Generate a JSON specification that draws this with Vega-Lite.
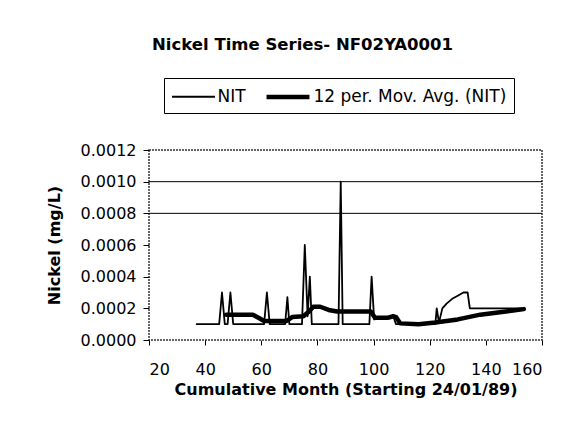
{
  "$schema": "https://vega.github.io/schema/vega-lite/v6.json",
  "width": 393,
  "height": 190,
  "autosize": {"type": "none"},
  "padding": {"left": 149, "top": 150, "right": 46, "bottom": 107},
  "background": "white",
  "title": {
    "text": "Nickel Time Series- NF02YA0001",
    "font": "DejaVu Sans",
    "fontSize": 16.5,
    "fontWeight": "bold",
    "color": "black",
    "anchor": "middle",
    "dx": -43,
    "offset": 24
  },
  "datasets": {
    "series": [
      {"series": "NIT", "i": 1, "month": 37, "nickel": 0.0001},
      {"series": "NIT", "i": 2, "month": 45, "nickel": 0.0001},
      {"series": "NIT", "i": 3, "month": 46, "nickel": 0.0003},
      {"series": "NIT", "i": 4, "month": 47, "nickel": 0.0001},
      {"series": "NIT", "i": 5, "month": 48, "nickel": 0.0001},
      {"series": "NIT", "i": 6, "month": 49, "nickel": 0.0003},
      {"series": "NIT", "i": 7, "month": 50, "nickel": 0.0001},
      {"series": "NIT", "i": 8, "month": 61, "nickel": 0.0001},
      {"series": "NIT", "i": 9, "month": 62, "nickel": 0.0003},
      {"series": "NIT", "i": 10, "month": 63, "nickel": 0.0001},
      {"series": "NIT", "i": 11, "month": 68.5, "nickel": 0.0001},
      {"series": "NIT", "i": 12, "month": 69.3, "nickel": 0.00027},
      {"series": "NIT", "i": 13, "month": 70, "nickel": 0.0001},
      {"series": "NIT", "i": 14, "month": 74.5, "nickel": 0.0001},
      {"series": "NIT", "i": 15, "month": 75.5, "nickel": 0.0006},
      {"series": "NIT", "i": 16, "month": 76.5, "nickel": 0.00015},
      {"series": "NIT", "i": 17, "month": 77.3, "nickel": 0.0004},
      {"series": "NIT", "i": 18, "month": 78, "nickel": 0.0001},
      {"series": "NIT", "i": 19, "month": 87.5, "nickel": 0.0001},
      {"series": "NIT", "i": 20, "month": 88.3, "nickel": 0.001},
      {"series": "NIT", "i": 21, "month": 89, "nickel": 0.0001},
      {"series": "NIT", "i": 22, "month": 98.5, "nickel": 0.0001},
      {"series": "NIT", "i": 23, "month": 99.3, "nickel": 0.0004},
      {"series": "NIT", "i": 24, "month": 100.2, "nickel": 0.00013},
      {"series": "NIT", "i": 25, "month": 104, "nickel": 0.00014},
      {"series": "NIT", "i": 26, "month": 107, "nickel": 0.00015},
      {"series": "NIT", "i": 27, "month": 108, "nickel": 0.0001},
      {"series": "NIT", "i": 28, "month": 122, "nickel": 0.0001},
      {"series": "NIT", "i": 29, "month": 122.5, "nickel": 0.0002},
      {"series": "NIT", "i": 30, "month": 123.3, "nickel": 0.00011},
      {"series": "NIT", "i": 31, "month": 124.5, "nickel": 0.0002},
      {"series": "NIT", "i": 32, "month": 126, "nickel": 0.00023},
      {"series": "NIT", "i": 33, "month": 128, "nickel": 0.00026},
      {"series": "NIT", "i": 34, "month": 130, "nickel": 0.00028},
      {"series": "NIT", "i": 35, "month": 132, "nickel": 0.0003},
      {"series": "NIT", "i": 36, "month": 133.5, "nickel": 0.0003},
      {"series": "NIT", "i": 37, "month": 134.3, "nickel": 0.0002},
      {"series": "NIT", "i": 38, "month": 153.5, "nickel": 0.0002},
      {"series": "12 per. Mov. Avg. (NIT)", "i": 1, "month": 47.5, "nickel": 0.00016},
      {"series": "12 per. Mov. Avg. (NIT)", "i": 2, "month": 57, "nickel": 0.00016},
      {"series": "12 per. Mov. Avg. (NIT)", "i": 3, "month": 59, "nickel": 0.00014},
      {"series": "12 per. Mov. Avg. (NIT)", "i": 4, "month": 61, "nickel": 0.00012},
      {"series": "12 per. Mov. Avg. (NIT)", "i": 5, "month": 69, "nickel": 0.00012},
      {"series": "12 per. Mov. Avg. (NIT)", "i": 6, "month": 71, "nickel": 0.000145},
      {"series": "12 per. Mov. Avg. (NIT)", "i": 7, "month": 75, "nickel": 0.00015},
      {"series": "12 per. Mov. Avg. (NIT)", "i": 8, "month": 77, "nickel": 0.00018},
      {"series": "12 per. Mov. Avg. (NIT)", "i": 9, "month": 78.5, "nickel": 0.00021},
      {"series": "12 per. Mov. Avg. (NIT)", "i": 10, "month": 81, "nickel": 0.00021},
      {"series": "12 per. Mov. Avg. (NIT)", "i": 11, "month": 84, "nickel": 0.00019},
      {"series": "12 per. Mov. Avg. (NIT)", "i": 12, "month": 87, "nickel": 0.00018},
      {"series": "12 per. Mov. Avg. (NIT)", "i": 13, "month": 99, "nickel": 0.00018},
      {"series": "12 per. Mov. Avg. (NIT)", "i": 14, "month": 100.5, "nickel": 0.00014},
      {"series": "12 per. Mov. Avg. (NIT)", "i": 15, "month": 105, "nickel": 0.00014},
      {"series": "12 per. Mov. Avg. (NIT)", "i": 16, "month": 107, "nickel": 0.00015},
      {"series": "12 per. Mov. Avg. (NIT)", "i": 17, "month": 108, "nickel": 0.000145},
      {"series": "12 per. Mov. Avg. (NIT)", "i": 18, "month": 109.5, "nickel": 0.000105},
      {"series": "12 per. Mov. Avg. (NIT)", "i": 19, "month": 116, "nickel": 0.0001},
      {"series": "12 per. Mov. Avg. (NIT)", "i": 20, "month": 122, "nickel": 0.00011},
      {"series": "12 per. Mov. Avg. (NIT)", "i": 21, "month": 130, "nickel": 0.00013},
      {"series": "12 per. Mov. Avg. (NIT)", "i": 22, "month": 138, "nickel": 0.00016},
      {"series": "12 per. Mov. Avg. (NIT)", "i": 23, "month": 145, "nickel": 0.000175},
      {"series": "12 per. Mov. Avg. (NIT)", "i": 24, "month": 153.5, "nickel": 0.000195}
    ],
    "limits": [
      {"nickel": 0.0008},
      {"nickel": 0.001}
    ]
  },
  "encoding": {
    "y": {
      "field": "nickel",
      "type": "quantitative",
      "scale": {"domain": [0, 0.0012], "nice": false},
      "axis": {
        "title": "Nickel (mg/L)",
        "values": [0, 0.0002, 0.0004, 0.0006, 0.0008, 0.001, 0.0012],
        "format": ".4f",
        "tickSize": 6,
        "labelPadding": 7,
        "titlePadding": 18,
        "labelOverlap": false
      }
    }
  },
  "layer": [
    {
      "data": {"name": "limits"},
      "mark": {"type": "rule", "color": "black", "strokeWidth": 1},
      "encoding": {}
    },
    {
      "data": {"name": "series"},
      "mark": {"type": "line", "color": "black", "strokeJoin": "round", "strokeCap": "round"},
      "encoding": {
        "x": {
          "field": "month",
          "type": "quantitative",
          "scale": {"domain": [20, 160], "nice": false, "zero": false},
          "axis": {
            "title": "Cumulative Month (Starting 24/01/89)",
            "values": [20, 40, 60, 80, 100, 120, 140, 160],
            "format": "d",
            "tickSize": 5,
            "labelPadding": 16,
            "titlePadding": 4,
            "labelOverlap": false
          }
        },
        "detail": {"field": "series", "type": "nominal"},
        "order": {"field": "i", "type": "quantitative"},
        "strokeWidth": {
          "field": "series",
          "type": "nominal",
          "scale": {"domain": ["NIT", "12 per. Mov. Avg. (NIT)"], "range": [1.8, 4.5]},
          "legend": {
            "title": null,
            "orient": "none",
            "legendX": 15,
            "legendY": -72,
            "direction": "horizontal",
            "symbolType": "M-2.26,0H2.26",
            "symbolSize": 361,
            "symbolOffset": 12,
            "symbolStrokeColor": "black",
            "labelFont": "DejaVu Sans",
            "labelFontSize": 17,
            "labelColor": "black",
            "labelOffset": 13.5,
            "labelLimit": 400,
            "columnPadding": 11,
            "strokeColor": "black",
            "fillColor": "white",
            "padding": 7
          }
        }
      }
    }
  ],
  "config": {
    "view": {"stroke": "#333", "strokeDash": [2, 1], "strokeWidth": 1.5},
    "axis": {
      "grid": false,
      "domain": false,
      "tickColor": "black",
      "labelColor": "black",
      "labelFont": "DejaVu Sans",
      "labelFontSize": 16,
      "titleFont": "DejaVu Sans",
      "titleFontSize": 16,
      "titleFontWeight": "bold",
      "titleColor": "black"
    }
  }
}
